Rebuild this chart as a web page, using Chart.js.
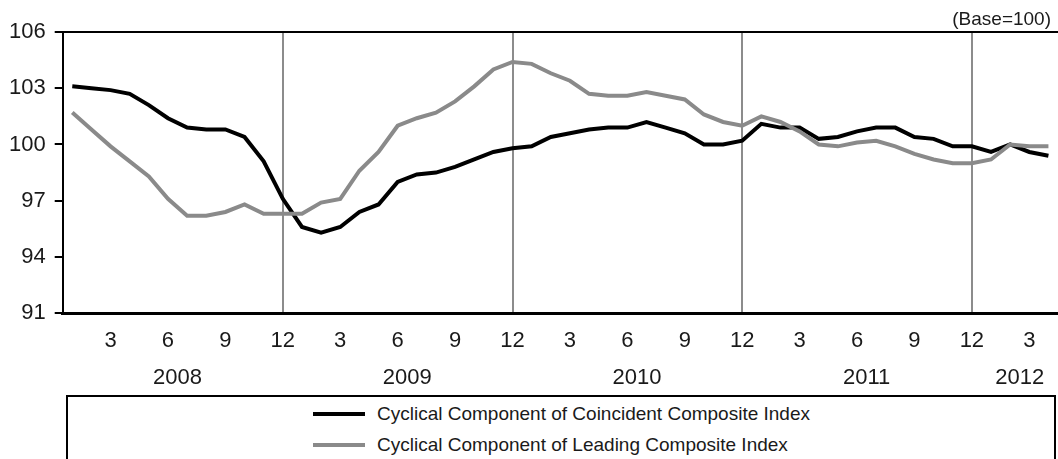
<!DOCTYPE html>
<html>
<head>
<meta charset="utf-8">
<title>Cyclical Components</title>
<script src="https://cdn.jsdelivr.net/npm/chart.js@4.4.1/dist/chart.umd.min.js"></script>
<style>
  html, body { margin: 0; padding: 0; background: #fff; overflow: hidden; }
  #wrap { position: relative; width: 1058px; height: 459px; overflow: hidden; }
  #chart { position: absolute; left: 0; top: 0; }
  #legend {
    position: absolute; left: 66px; top: 395px; width: 990px; height: 90px;
    border: 2px solid #000; box-sizing: border-box; background: #fff;
    font-family: "Liberation Sans", Arial, sans-serif; font-size: 19px; color: #1a1a1a;
  }
  .item { position: absolute; left: 245px; height: 24px; display: flex; align-items: center; white-space: nowrap; }
  .swatch { width: 52px; height: 4px; margin-right: 12px; }
</style>
</head>
<body>
<div id="wrap">
  <canvas id="chart" width="1058" height="459"></canvas>
  <div id="legend"></div>
</div>
<script>
// monthly, Jan 2008 .. Apr 2012
var categories = [
  '2008.01','2008.02','2008.03','2008.04','2008.05','2008.06','2008.07','2008.08','2008.09','2008.10','2008.11','2008.12',
  '2009.01','2009.02','2009.03','2009.04','2009.05','2009.06','2009.07','2009.08','2009.09','2009.10','2009.11','2009.12',
  '2010.01','2010.02','2010.03','2010.04','2010.05','2010.06','2010.07','2010.08','2010.09','2010.10','2010.11','2010.12',
  '2011.01','2011.02','2011.03','2011.04','2011.05','2011.06','2011.07','2011.08','2011.09','2011.10','2011.11','2011.12',
  '2012.01','2012.02','2012.03','2012.04'
];
var yearLabels = ['2008', '2009', '2010', '2011', '2012'];

var coincident = [
  103.1, 103.0, 102.9, 102.7, 102.1, 101.4, 100.9, 100.8, 100.8, 100.4, 99.1, 97.1,
  95.6, 95.3, 95.6, 96.4, 96.8, 98.0, 98.4, 98.5, 98.8, 99.2, 99.6, 99.8,
  99.9, 100.4, 100.6, 100.8, 100.9, 100.9, 101.2, 100.9, 100.6, 100.0, 100.0, 100.2,
  101.1, 100.9, 100.9, 100.3, 100.4, 100.7, 100.9, 100.9, 100.4, 100.3, 99.9, 99.9,
  99.6, 100.0, 99.6, 99.4
];
var leading = [
  101.7, 100.8, 99.9, 99.1, 98.3, 97.1, 96.2, 96.2, 96.4, 96.8, 96.3, 96.3,
  96.3, 96.9, 97.1, 98.6, 99.6, 101.0, 101.4, 101.7, 102.3, 103.1, 104.0, 104.4,
  104.3, 103.8, 103.4, 102.7, 102.6, 102.6, 102.8, 102.6, 102.4, 101.6, 101.2, 101.0,
  101.5, 101.2, 100.7, 100.0, 99.9, 100.1, 100.2, 99.9, 99.5, 99.2, 99.0, 99.0,
  99.2, 100.0, 99.9, 99.9
];

var seriesNames = [
  'Cyclical Component of Coincident Composite Index',
  'Cyclical Component of Leading Composite Index'
];
var seriesColors = ['#000000', '#8a8a8a'];

var FONT = '"Liberation Sans", Arial, sans-serif';
var TEXT = '#1a1a1a';

// centre of each year's months, in category units
var yearCenters = yearLabels.map(function (y) {
  var first = -1, last = -1;
  categories.forEach(function (c, i) {
    if (c.slice(0, 4) === y) { if (first < 0) first = i; last = i; }
  });
  return (first + last) / 2;
});

function monthOf(i) {
  return parseInt(categories[i].split('.')[1], 10);
}

var baseNote = {
  id: 'baseNote',
  afterDraw: function (chart) {
    var ctx = chart.ctx;
    ctx.save();
    ctx.font = '19px ' + FONT;
    ctx.fillStyle = TEXT;
    ctx.textAlign = 'right';
    ctx.textBaseline = 'middle';
    ctx.fillText('(Base=100)', chart.chartArea.right - 7, chart.chartArea.top - 12);
    ctx.restore();
  }
};

var config = {
  type: 'line',
  data: {
    labels: categories,
    datasets: [{
      label: seriesNames[0],
      data: coincident,
      borderColor: seriesColors[0],
      borderWidth: 4,
      pointRadius: 0,
      tension: 0,
      order: 2
    }, {
      label: seriesNames[1],
      data: leading,
      borderColor: seriesColors[1],
      borderWidth: 4,
      pointRadius: 0,
      tension: 0,
      order: 1
    }]
  },
  options: {
    responsive: false,
    animation: false,
    devicePixelRatio: 1,
    layout: { padding: { top: 32, left: 0, right: 0, bottom: 60 } },
    plugins: {
      legend: { display: false },
      tooltip: { enabled: false }
    },
    scales: {
      x: {
        type: 'category',
        position: 'bottom',
        offset: true,
        grid: {
          drawTicks: true,
          tickLength: 13,
          tickColor: 'rgba(0,0,0,0)',
          lineWidth: 2,
          color: function (ctx) {
            return monthOf(ctx.index) === 12 ? '#8c8c8c' : 'rgba(0,0,0,0)';
          }
        },
        border: { color: '#000', width: 3 },
        ticks: {
          autoSkip: false,
          maxRotation: 0,
          minRotation: 0,
          padding: 2,
          color: TEXT,
          font: { family: FONT, size: 22 },
          callback: function (value, index) {
            var m = monthOf(index);
            return m % 3 === 0 ? String(m) : '';
          }
        }
      },
      xYear: {
        type: 'linear',
        position: 'bottom',
        weight: 1,
        min: -0.5,
        max: categories.length - 0.5,
        grid: { display: false, drawTicks: false },
        border: { display: false },
        afterBuildTicks: function (axis) {
          axis.ticks = yearCenters.map(function (v) { return { value: v }; });
        },
        ticks: {
          autoSkip: false,
          maxRotation: 0,
          padding: 8,
          color: TEXT,
          font: { family: FONT, size: 22 },
          callback: function (value) {
            return yearLabels[yearCenters.indexOf(value)];
          }
        }
      },
      xTop: {
        type: 'category',
        position: 'top',
        ticks: { display: false },
        grid: { display: false, drawTicks: false },
        border: { color: '#000', width: 2 }
      },
      y: {
        min: 91,
        max: 106,
        ticks: {
          stepSize: 3,
          padding: 9,
          color: TEXT,
          font: { family: FONT, size: 22 }
        },
        grid: {
          drawOnChartArea: false,
          drawTicks: true,
          tickLength: 8,
          lineWidth: 2,
          color: '#000'
        },
        border: { color: '#000', width: 2 }
      }
    }
  },
  plugins: [baseNote]
};

new Chart(document.getElementById('chart'), config);

// legend box under the chart
var legendBox = document.getElementById('legend');
seriesNames.forEach(function (name, i) {
  var item = document.createElement('div');
  item.className = 'item';
  item.style.top = (5 + i * 31) + 'px';
  var sw = document.createElement('span');
  sw.className = 'swatch';
  sw.style.background = seriesColors[i];
  var txt = document.createElement('span');
  txt.textContent = name;
  item.appendChild(sw);
  item.appendChild(txt);
  legendBox.appendChild(item);
});
</script>
</body>
</html>
